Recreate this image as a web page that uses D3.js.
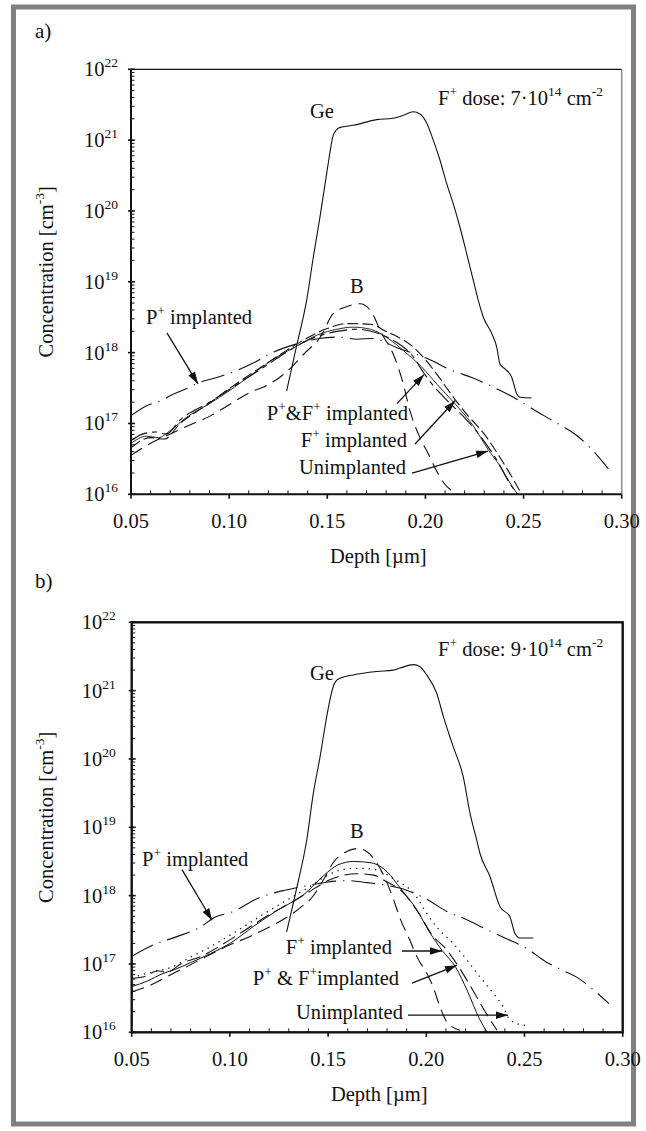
<!DOCTYPE html>
<html>
<head>
<meta charset="utf-8">
<script src="https://cdn.jsdelivr.net/npm/d3@7"></script>
<style>
  body { margin: 0; background: #fff; }
  svg { display: block; }
  text { font-family: "Liberation Serif", "DejaVu Serif", serif; }
</style>
</head>
<body>
<svg width="646" height="1131" font-family="Liberation Serif, DejaVu Serif, serif"></svg>
<script>
// dados: profundidade (µm) e log10 da concentração (cm^-3)
const geA = [[0.1293,17.46],[0.1344,18.10],[0.1395,18.74],[0.1429,19.35],[0.1463,19.92],[0.1497,20.53],[0.1515,20.85],[0.1528,21.05],[0.1545,21.14],[0.1565,21.18],[0.1633,21.21],[0.1752,21.29],[0.1836,21.31],[0.1887,21.35],[0.1938,21.40],[0.1972,21.37],[0.2007,21.24],[0.2040,21.00],[0.2074,20.72],[0.2108,20.39],[0.2142,20.10],[0.2176,19.77],[0.2210,19.40],[0.2244,19.02],[0.2269,18.74],[0.2295,18.50],[0.2338,18.27],[0.2363,18.08],[0.2380,17.84],[0.2405,17.77],[0.2440,17.65],[0.2465,17.42],[0.2482,17.37],[0.2541,17.36]];
const bRefA = [[0.05,16.55],[0.06,16.72],[0.07,16.85],[0.08,16.98],[0.09,17.1],[0.098,17.23],[0.1123,17.46],[0.118,17.52],[0.132,17.8],[0.138,17.98],[0.1465,18.22],[0.153,18.55],[0.16,18.65],[0.1667,18.69],[0.1726,18.57],[0.1777,18.27],[0.1836,17.98],[0.1887,17.56],[0.1921,17.18],[0.1972,16.8],[0.2015,16.57],[0.2057,16.33],[0.2091,16.17],[0.2168,16.0]];
const pImplA = [[0.05,17.11],[0.058,17.25],[0.065,17.32],[0.072,17.42],[0.079,17.5],[0.085,17.58],[0.095,17.66],[0.104,17.75],[0.112,17.85],[0.122,18.0],[0.134,18.12],[0.146,18.2],[0.156,18.22],[0.165,18.19],[0.173,18.2],[0.1855,18.07],[0.2015,17.91],[0.2142,17.74],[0.2236,17.65],[0.2363,17.49],[0.2448,17.37],[0.2567,17.17],[0.266,17.02],[0.2771,16.83],[0.2839,16.66],[0.2932,16.36]];
const fImplA = [[0.05,16.66],[0.06,16.8],[0.067,16.78],[0.075,17.0],[0.088,17.25],[0.102,17.53],[0.116,17.79],[0.1275,18.0],[0.14,18.21],[0.15,18.34],[0.16,18.41],[0.172,18.4],[0.18,18.3],[0.186,18.22],[0.193,18.1],[0.2,17.9],[0.207,17.65],[0.215,17.34],[0.222,17.1],[0.23,16.85],[0.238,16.52],[0.245,16.2],[0.249,16.0]];
const pfImplA = [[0.05,16.76],[0.057,16.86],[0.063,16.88],[0.068,16.85],[0.075,17.05],[0.09,17.3],[0.104,17.55],[0.118,17.8],[0.13,18.02],[0.142,18.2],[0.155,18.3],[0.165,18.33],[0.175,18.28],[0.185,18.15],[0.193,17.97],[0.199,17.72],[0.205,17.5],[0.212,17.3],[0.22,17.08],[0.228,16.82],[0.236,16.5],[0.243,16.15],[0.247,16.0]];
const unimplA = [[0.05,16.72],[0.058,16.82],[0.064,16.8],[0.07,16.9],[0.078,17.08],[0.09,17.28],[0.1,17.46],[0.112,17.7],[0.125,17.95],[0.135,18.1],[0.145,18.25],[0.155,18.33],[0.163,18.36],[0.172,18.33],[0.18,18.22],[0.19,18.0],[0.198,17.8],[0.206,17.55],[0.215,17.28],[0.224,16.98],[0.232,16.63],[0.238,16.4],[0.244,16.12],[0.247,16.0]];

const geB = [[0.1289,17.47],[0.1340,18.11],[0.1391,18.81],[0.1425,19.50],[0.1459,20.03],[0.1493,20.62],[0.1512,20.9],[0.1526,21.06],[0.1543,21.15],[0.1561,21.18],[0.1628,21.23],[0.1747,21.28],[0.1832,21.30],[0.1866,21.33],[0.1934,21.38],[0.1968,21.35],[0.2002,21.23],[0.2053,20.96],[0.2087,20.62],[0.2137,20.18],[0.2188,19.74],[0.2223,19.20],[0.2257,18.81],[0.2273,18.62],[0.2324,18.28],[0.2375,17.84],[0.2426,17.69],[0.2451,17.45],[0.2477,17.38],[0.2545,17.38]];
const bRefB = [[0.05,16.59],[0.058,16.67],[0.073,16.89],[0.078,16.96],[0.088,17.11],[0.1,17.28],[0.11,17.4],[0.122,17.57],[0.13,17.7],[0.137,17.85],[0.142,17.98],[0.147,18.2],[0.153,18.5],[0.159,18.64],[0.1655,18.69],[0.1728,18.56],[0.1779,18.32],[0.183,17.97],[0.1866,17.67],[0.1916,17.35],[0.1953,17.1],[0.2003,16.86],[0.2034,16.67],[0.207,16.37],[0.2105,16.15],[0.2172,16.03]];
const pImplB = [[0.05,17.11],[0.061,17.28],[0.073,17.4],[0.085,17.54],[0.092,17.68],[0.101,17.76],[0.115,17.97],[0.128,18.08],[0.14,18.15],[0.15,18.2],[0.16,18.22],[0.17,18.19],[0.18,18.15],[0.19,18.08],[0.2,17.95],[0.211,17.76],[0.219,17.67],[0.231,17.5],[0.24,17.38],[0.251,17.23],[0.261,17.03],[0.27,16.9],[0.277,16.8],[0.283,16.67],[0.288,16.55],[0.293,16.42]];
const fImplB = [[0.05,16.67],[0.058,16.75],[0.065,16.85],[0.072,16.92],[0.08,17.02],[0.09,17.15],[0.1,17.3],[0.112,17.55],[0.125,17.8],[0.137,18.0],[0.148,18.3],[0.155,18.45],[0.163,18.5],[0.172,18.48],[0.18,18.35],[0.187,18.1],[0.195,17.8],[0.202,17.45],[0.208,17.2],[0.215,16.95],[0.221,16.6],[0.227,16.2],[0.231,16.0]];
const pfImplB = [[0.05,16.79],[0.057,16.82],[0.063,16.9],[0.068,16.88],[0.075,17.0],[0.086,17.12],[0.097,17.3],[0.108,17.5],[0.12,17.72],[0.13,17.88],[0.14,18.05],[0.15,18.22],[0.158,18.3],[0.165,18.32],[0.173,18.3],[0.18,18.2],[0.188,18.05],[0.196,17.75],[0.203,17.42],[0.21,17.22],[0.216,16.98],[0.224,16.6],[0.23,16.3],[0.236,16.03]];
const unimplB = [[0.05,16.8],[0.06,16.88],[0.07,16.95],[0.08,17.1],[0.09,17.25],[0.1,17.42],[0.11,17.6],[0.12,17.78],[0.13,17.95],[0.14,18.12],[0.15,18.3],[0.157,18.38],[0.165,18.4],[0.174,18.38],[0.1832,18.25],[0.1951,17.98],[0.2002,17.74],[0.2053,17.54],[0.2137,17.3],[0.2206,17.06],[0.2273,16.81],[0.2341,16.57],[0.2392,16.37],[0.2426,16.18],[0.2503,16.1]];

// eixos
const depthDomain = [0.05, 0.30];
const xTickValues = [0.05, 0.10, 0.15, 0.20, 0.25, 0.30];
const xTickLabels = ["0.05", "0.10", "0.15", "0.20", "0.25", "0.30"];
const decades = [16, 17, 18, 19, 20, 21, 22];

const svg = d3.select("svg");
const INK = "#111";
const SERIF = "Liberation Serif, DejaVu Serif, serif";
const FONT = 20.5;
const SUP = 13.5;
const RISE = 9;

// moldura cinza em volta da figura
svg.append("rect")
  .attr("x", 13.5).attr("y", 7)
  .attr("width", 620).attr("height", 1117)
  .attr("fill", "none").attr("stroke", "#808080").attr("stroke-width", 5);

// ponta de seta
svg.append("defs").append("marker")
  .attr("id", "arrow")
  .attr("viewBox", "0 -5 10 10")
  .attr("refX", 10).attr("refY", 0)
  .attr("markerUnits", "userSpaceOnUse")
  .attr("markerWidth", 12).attr("markerHeight", 12)
  .attr("orient", "auto")
  .append("path")
  .attr("d", "M0,-3.2L10,0L0,3.2Z")
  .attr("fill", INK);

// texto com sobrescritos: parts = [[texto, sobrescrito?], ...]
function richText(g, x, y, parts, anchor) {
  const t = g.append("text")
    .attr("x", x).attr("y", y)
    .attr("text-anchor", anchor || "start")
    .attr("font-family", SERIF)
    .attr("font-size", FONT)
    .attr("fill", INK)
    .style("white-space", "pre");
  let up = false;
  parts.forEach(([s, sup]) => {
    const ts = t.append("tspan").text(s);
    if (sup && !up) { ts.attr("dy", -RISE); up = true; }
    else if (!sup && up) { ts.attr("dy", RISE); up = false; }
    if (sup) ts.attr("font-size", SUP);
  });
  return t;
}

function drawPanel(p) {
  const x = d3.scaleLinear().domain(depthDomain).range([p.left, p.right]);
  const y = d3.scaleLog().domain([1e16, 1e22]).range([p.bottom, p.top]);
  const g = svg.append("g");

  g.append("clipPath").attr("id", "clip-" + p.id)
    .append("rect")
    .attr("x", p.left).attr("y", p.top)
    .attr("width", p.right - p.left).attr("height", p.bottom - p.top);

  // curvas
  const line = d3.line().x(d => x(d[0])).y(d => y(Math.pow(10, d[1]))).curve(d3.curveMonotoneX);
  p.series.forEach(s => {
    g.append("path")
      .attr("d", line(s.data))
      .attr("fill", "none")
      .attr("stroke", INK)
      .attr("stroke-width", s.width || 1.1)
      .attr("stroke-dasharray", s.dash || null)
      .attr("clip-path", `url(#clip-${p.id})`);
  });

  // moldura do gráfico
  if (p.boxed) {
    g.append("rect")
      .attr("x", p.left).attr("y", p.top)
      .attr("width", p.right - p.left).attr("height", p.bottom - p.top)
      .attr("fill", "none").attr("stroke", INK).attr("stroke-width", 2.4);
  } else {
    g.append("line").attr("x1", p.left).attr("x2", p.right).attr("y1", p.top).attr("y2", p.top)
      .attr("stroke", INK).attr("stroke-width", 1.3);
    g.append("line").attr("x1", p.right).attr("x2", p.right).attr("y1", p.top).attr("y2", p.bottom)
      .attr("stroke", "#8a8a8a").attr("stroke-width", 1.5);
    g.append("line").attr("x1", p.left).attr("x2", p.left).attr("y1", p.top).attr("y2", p.bottom)
      .attr("stroke", INK).attr("stroke-width", 2);
    g.append("line").attr("x1", p.left).attr("x2", p.right).attr("y1", p.bottom).attr("y2", p.bottom)
      .attr("stroke", INK).attr("stroke-width", 2);
  }

  // marcas do eixo y (décadas e subdivisões)
  const minor = [];
  decades.slice(0, -1).forEach(e => d3.range(2, 10).forEach(m => minor.push(m * Math.pow(10, e))));
  g.selectAll(".ymin").data(minor).enter().append("line")
    .attr("x1", p.left).attr("x2", p.left + 3.5)
    .attr("y1", d => y(d)).attr("y2", d => y(d))
    .attr("stroke", INK).attr("stroke-width", 1);
  g.selectAll(".ymaj").data(decades).enter().append("line")
    .attr("x1", p.left - 3).attr("x2", p.left + 4)
    .attr("y1", d => y(Math.pow(10, d))).attr("y2", d => y(Math.pow(10, d)))
    .attr("stroke", INK).attr("stroke-width", 1.6);
  decades.forEach(e => {
    richText(g, p.left - p.labelGap, y(Math.pow(10, e)) + 7, [["10"], [String(e), 1]], "end");
  });

  // marcas do eixo x
  const xMinor = d3.range(6, 30).filter(v => v % 5 !== 0).map(v => v / 100);
  g.selectAll(".xmin").data(xMinor).enter().append("line")
    .attr("x1", d => x(d)).attr("x2", d => x(d))
    .attr("y1", p.bottom).attr("y2", p.bottom - 4)
    .attr("stroke", INK).attr("stroke-width", 1);
  g.selectAll(".xmaj").data(xTickValues).enter().append("line")
    .attr("x1", d => x(d)).attr("x2", d => x(d))
    .attr("y1", p.bottom).attr("y2", p.bottom + 4.5)
    .attr("stroke", INK).attr("stroke-width", 1.6);
  g.selectAll(".xlab").data(xTickValues).enter().append("text")
    .attr("x", d => x(d)).attr("y", p.bottom + 34)
    .attr("text-anchor", "middle").attr("font-family", SERIF)
    .attr("font-size", FONT).attr("fill", INK)
    .text((d, i) => xTickLabels[i]);

  // títulos dos eixos
  g.append("text")
    .attr("x", (p.left + p.right) / 2 + 2).attr("y", p.bottom + 69)
    .attr("text-anchor", "middle").attr("font-family", SERIF)
    .attr("font-size", FONT).attr("fill", INK)
    .text("Depth [µm]");
  const yt = richText(g, 0, 0, [["Concentration [cm"], ["-3", 1], ["]"]], "middle");
  yt.attr("transform", `translate(53,${(p.top + p.bottom) / 2 - 10}) rotate(-90)`);

  // rótulo do painel
  g.append("text").attr("x", 35).attr("y", p.tagY)
    .attr("font-family", SERIF).attr("font-size", 21).attr("fill", INK).text(p.tag);

  // anotações
  p.labels.forEach(l => richText(g, x(l.at[0]), y(Math.pow(10, l.at[1])), l.parts, l.anchor));
  p.arrows.forEach(a => {
    g.append("line")
      .attr("x1", x(a[0][0])).attr("y1", y(Math.pow(10, a[0][1])))
      .attr("x2", x(a[1][0])).attr("y2", y(Math.pow(10, a[1][1])))
      .attr("stroke", INK).attr("stroke-width", 1.3)
      .attr("marker-end", "url(#arrow)");
  });
}

const DASH_B = "13,7";
const DASH_P = "24,7,1.2,7";

drawPanel({
  id: "a", tag: "a)", tagY: 38, boxed: false,
  left: 131, right: 621.7, top: 69.3, bottom: 494.3, labelGap: 13,
  series: [
    { data: geA },
    { data: bRefA, dash: DASH_B },
    { data: pImplA, dash: DASH_P },
    { data: fImplA, dash: "11,4" },
    { data: pfImplA, dash: "18,5,5,5" },
    { data: unimplA, width: 0.9 }
  ],
  labels: [
    { at: [0.1412, 21.31], parts: [["Ge"]] },
    { at: [0.1616, 18.84], parts: [["B"]] },
    { at: [0.2064, 21.49], parts: [["F"], ["+", 1], [" dose: 7·10"], ["14", 1], [" cm"], ["-2", 1]] },
    { at: [0.0576, 18.41], parts: [["P"], ["+", 1], [" implanted"]] },
    { at: [0.1911, 17.05], parts: [["P"], ["+", 1], ["&F"], ["+", 1], [" implanted"]], anchor: "end" },
    { at: [0.1906, 16.67], parts: [["F"], ["+", 1], [" implanted"]], anchor: "end" },
    { at: [0.1901, 16.29], parts: [["Unimplanted"]], anchor: "end" }
  ],
  arrows: [
    [[0.0683, 18.28], [0.0841, 17.56]],
    [[0.1855, 17.28], [0.1993, 17.69]],
    [[0.1947, 16.71], [0.2151, 17.32]],
    [[0.1932, 16.30], [0.2319, 16.61]]
  ]
});

drawPanel({
  id: "b", tag: "b)", tagY: 588, boxed: true,
  left: 131.7, right: 622.7, top: 622.3, bottom: 1032.3, labelGap: 16,
  series: [
    { data: geB },
    { data: bRefB, dash: DASH_B },
    { data: pImplB, dash: DASH_P },
    { data: fImplB, width: 1 },
    { data: pfImplB, dash: "14,6" },
    { data: unimplB, dash: "1.3,5", width: 1.3 }
  ],
  labels: [
    { at: [0.1408, 21.16], parts: [["Ge"]] },
    { at: [0.1611, 18.84], parts: [["B"]] },
    { at: [0.2060, 21.51], parts: [["F"], ["+", 1], [" dose: 9·10"], ["14", 1], [" cm"], ["-2", 1]] },
    { at: [0.0553, 18.44], parts: [["P"], ["+", 1], [" implanted"]] },
    { at: [0.1825, 17.15], parts: [["F"], ["+", 1], [" implanted"]], anchor: "end" },
    { at: [0.1861, 16.69], parts: [["P"], ["+", 1], [" & F"], ["+", 1], ["implanted"]], anchor: "end" },
    { at: [0.1881, 16.19], parts: [["Unimplanted"]], anchor: "end" }
  ],
  arrows: [
    [[0.0756, 18.38], [0.0909, 17.64]],
    [[0.1876, 17.19], [0.2080, 17.19]],
    [[0.1927, 16.72], [0.2156, 16.98]],
    [[0.1907, 16.25], [0.2416, 16.25]]
  ]
});
</script>
</body>
</html>
